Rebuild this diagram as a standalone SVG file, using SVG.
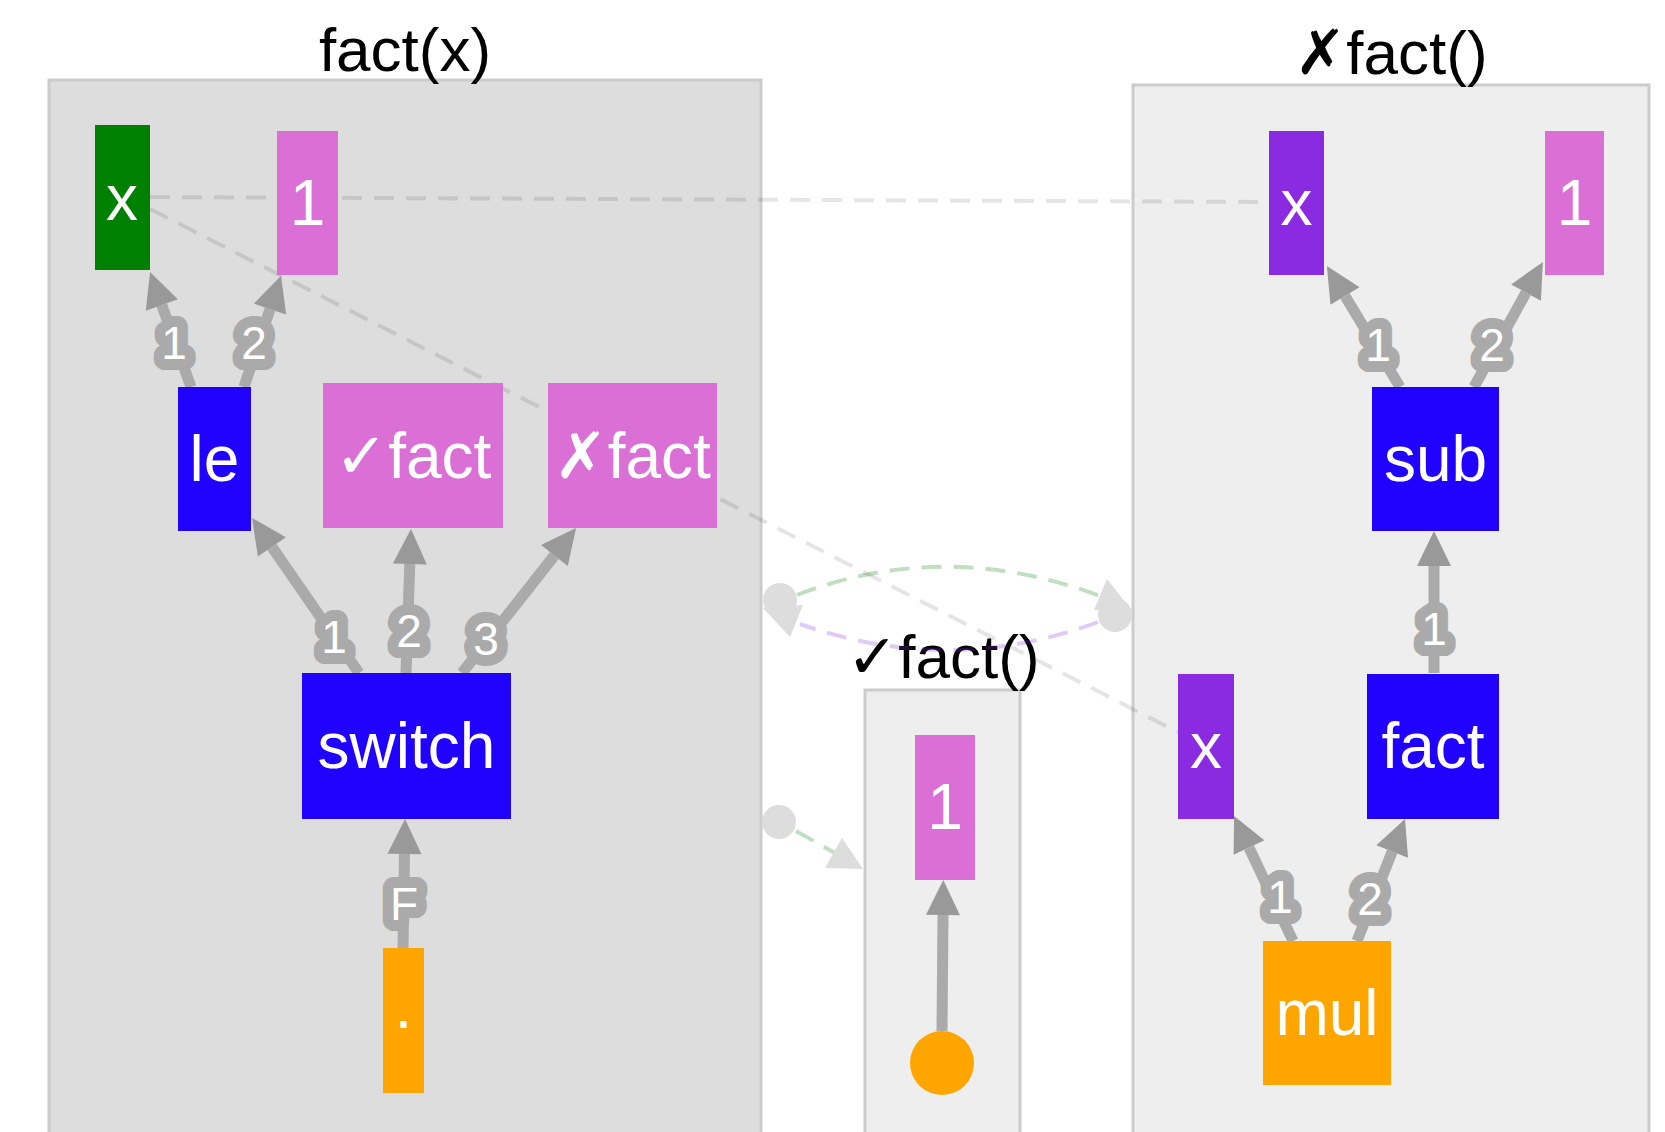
<svg xmlns="http://www.w3.org/2000/svg" width="1665" height="1132" viewBox="0 0 1665 1132">
<style>
.cl{stroke:#cccccc;stroke-width:3}
.ttl{font-family:"Liberation Sans",Arial,"DejaVu Sans",sans-serif;font-size:62px;fill:#000;text-anchor:middle}
.nl{font-family:"Liberation Sans",Arial,"DejaVu Sans",sans-serif;font-size:64px;fill:#fff;text-anchor:middle}
.e{stroke:#aaaaaa;stroke-width:11;fill:none;marker-end:url(#ah)}
.el{font-family:"Liberation Sans",Arial,sans-serif;font-size:46px;fill:#fff;stroke:#aaaaaa;stroke-width:22;stroke-linejoin:round;paint-order:stroke;text-anchor:middle}
.d{stroke:#000;stroke-opacity:0.1;stroke-width:4;stroke-dasharray:20 12;fill:none}
.dg{stroke:#008000;stroke-opacity:0.25;stroke-width:4;stroke-dasharray:20 12;fill:none}
.dp{stroke:#8a2be2;stroke-opacity:0.25;stroke-width:4;stroke-dasharray:20 12;fill:none}
.lh{fill:#dddddd}
.blue{fill:#2000ff}.orchid{fill:#da70d6}.purple{fill:#8a2be2}.orange{fill:#ffa500}.green{fill:#008000}
</style>
<defs>
<marker id="ah" markerUnits="userSpaceOnUse" markerWidth="36" markerHeight="34" refX="0" refY="17" orient="auto" overflow="visible"><path d="M0,0 L35,17 L0,34 z" fill="#999999"/></marker>
</defs>
<rect width="1665" height="1132" fill="#ffffff"/>
<g id="cluster-factx">
<rect class="cl" x="49" y="80" width="712" height="1070" fill="#dddddd"/>
<text class="ttl" x="405" y="71">fact(x)</text>
</g>
<g id="cluster-okfact">
<rect class="cl" x="865" y="690" width="155" height="460" fill="#eeeeee"/>
<text class="ttl" x="943" y="678">✓fact()</text>
</g>
<g id="cluster-errfact">
<rect class="cl" x="1133" y="85" width="516" height="1065" fill="#eeeeee"/>
<text class="ttl" x="1391" y="74">✗fact()</text>
</g>
<g id="connectors">
<line class="d" x1="150" y1="197" x2="1269" y2="202"/>
<line class="d" x1="150" y1="209" x2="1178" y2="732"/>
<path class="dg" d="M797,595 Q945,538 1100,596"/>
<path class="dp" d="M1098,622 Q950,677 800,624"/>
<line class="dg" x1="796" y1="831" x2="840" y2="856"/>
<circle class="lh" cx="780" cy="600" r="17"/>
<polygon class="lh" points="763,608 803,605 790,637"/>
<circle class="lh" cx="1115" cy="615" r="17"/>
<polygon class="lh" points="1107,579 1094,610 1133,612"/>
<circle class="lh" cx="779" cy="822" r="17"/>
<polygon class="lh" points="842,838 825,868 863,869"/>
<line class="e" x1="191" y1="387" x2="161.8" y2="305"/>
<line class="e" x1="244" y1="387" x2="270" y2="309"/>
<line class="e" x1="359" y1="673" x2="271.9" y2="546.8"/>
<line class="e" x1="406" y1="673" x2="409.8" y2="564"/>
<line class="e" x1="462" y1="673" x2="554.4" y2="555.5"/>
<line class="e" x1="403" y1="948" x2="404.5" y2="854"/>
<line class="e" x1="942" y1="1031" x2="943" y2="915"/>
<line class="e" x1="1400" y1="387" x2="1345" y2="296"/>
<line class="e" x1="1474" y1="387" x2="1526" y2="292.6"/>
<line class="e" x1="1434" y1="673" x2="1434" y2="566"/>
<line class="e" x1="1293" y1="941" x2="1249" y2="847.6"/>
<line class="e" x1="1357" y1="941" x2="1392.2" y2="851.6"/>
<text class="el" x="174" y="359">1</text>
<text class="el" x="254" y="359">2</text>
<text class="el" x="334" y="653">1</text>
<text class="el" x="409" y="647">2</text>
<text class="el" x="486" y="655">3</text>
<text class="el" x="404" y="920">F</text>
<text class="el" x="1378" y="361">1</text>
<text class="el" x="1492" y="361">2</text>
<text class="el" x="1434" y="645">1</text>
<text class="el" x="1280" y="913">1</text>
<text class="el" x="1370" y="915">2</text>
</g>
<g id="n-x"><rect class="green" x="95" y="125" width="55" height="145"/><text class="nl" x="122" y="220">x</text></g>
<g id="n-one"><rect class="orchid" x="277" y="131" width="61" height="144"/><text class="nl" x="307.5" y="225">1</text></g>
<g id="n-le"><rect class="blue" x="178" y="387" width="73" height="144"/><text class="nl" x="214.5" y="481">le</text></g>
<g id="n-okfact"><rect class="orchid" x="323" y="383" width="180" height="145"/><text class="nl" x="413" y="478">✓fact</text></g>
<g id="n-errfact"><rect class="orchid" x="548" y="383" width="169" height="145"/><text class="nl" x="632.5" y="478">✗fact</text></g>
<g id="n-switch"><rect class="blue" x="302" y="673" width="209" height="146"/><text class="nl" x="406.5" y="768">switch</text></g>
<g id="n-dot"><rect class="orange" x="383" y="948" width="41" height="145"/><text class="nl" x="403.5" y="1042">·</text></g>
<g id="n-ok-one"><rect class="orchid" x="915" y="735" width="60" height="145"/><text class="nl" x="945" y="829">1</text></g>
<g id="n-ok-circle"><circle class="orange" cx="942" cy="1063" r="32"/></g>
<g id="n-err-x"><rect class="purple" x="1269" y="131" width="55" height="144"/><text class="nl" x="1296.5" y="225">x</text></g>
<g id="n-err-one"><rect class="orchid" x="1545" y="131" width="59" height="144"/><text class="nl" x="1574.5" y="225">1</text></g>
<g id="n-sub"><rect class="blue" x="1372" y="387" width="127" height="144"/><text class="nl" x="1435.5" y="481">sub</text></g>
<g id="n-err-x2"><rect class="purple" x="1178" y="674" width="56" height="145"/><text class="nl" x="1206" y="768">x</text></g>
<g id="n-fact"><rect class="blue" x="1367" y="674" width="132" height="145"/><text class="nl" x="1433" y="768">fact</text></g>
<g id="n-mul"><rect class="orange" x="1263" y="941" width="128" height="144"/><text class="nl" x="1327" y="1035">mul</text></g>
</svg>
